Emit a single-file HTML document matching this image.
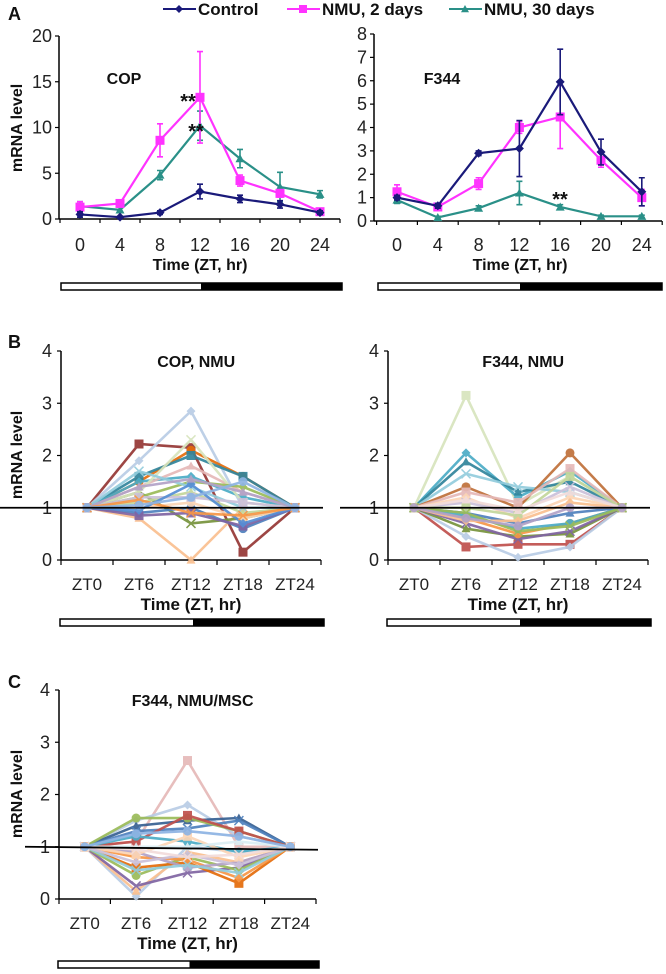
<!DOCTYPE html>
<html><head><meta charset="utf-8"><style>
html,body{margin:0;padding:0;background:#fff;}
svg{display:block;font-family:"Liberation Sans",Arial,sans-serif;}
</style></head><body>
<svg id="fig" width="666" height="974" viewBox="0 0 666 974" xmlns="http://www.w3.org/2000/svg"></svg>
<script>
// ---------- Panel A data ----------
const aTimes = [0,4,8,12,16,20,24];
const copControl = [0.5,0.2,0.7,3.0,2.2,1.6,0.7];
const copControlErr = [0.3,0.1,0.2,0.8,0.4,0.4,0.2];
const copNmu2 = [1.3,1.7,8.6,13.3,4.2,2.8,0.8];
const copNmu2Err = [0.6,0.3,1.8,5.0,0.6,0.4,0.3];
const copNmu30 = [1.4,1.0,4.8,10.2,6.6,3.5,2.7];
const copNmu30Err = [0.5,0.3,0.5,1.6,1.0,1.6,0.4];
const f344Control = [1.0,0.65,2.9,3.1,5.95,2.95,1.25];
const f344ControlErr = [0.1,0.1,0.1,1.2,1.4,0.55,0.6];
const f344Nmu2 = [1.25,0.6,1.6,4.0,4.45,2.6,1.0];
const f344Nmu2Err = [0.3,0.1,0.25,0.25,1.35,0.3,0.35];
const f344Nmu30 = [0.9,0.15,0.55,1.2,0.6,0.2,0.2];
const f344Nmu30Err = [0.15,0.05,0.1,0.5,0.1,0.05,0.05];
const copTicks = [0,5,10,15,20];
const f344Ticks = [0,1,2,3,4,5,6,7,8];
// ---------- Panels B/C data ----------
const ztLabels = ["ZT0","ZT6","ZT12","ZT18","ZT24"];
const bcTicks = [0,1,2,3,4];
const copNmuSeries = [
 [1,2.22,2.15,0.15,1],[1,1.9,2.85,1.0,1],[1,0.8,0.0,1.0,1],[1,1.3,0.7,0.8,1],
 [1,1.5,2.1,1.6,1],[1,1.6,2.0,1.6,1],[1,1.5,1.6,1.2,1],[1,1.4,1.8,1.3,1],
 [1,1.3,2.3,1.1,1],[1,0.9,1.0,0.6,1],[1,0.85,0.9,0.65,1],[1,1.2,1.5,1.4,1],
 [1,1.1,1.3,0.9,1],[1,1.7,1.4,1.0,1],[1,1.0,1.1,0.8,1],[1,1.2,1.2,1.1,1],
 [1,0.95,1.45,0.7,1],[1,1.4,1.55,1.3,1],[1,1.15,0.9,0.85,1],[1,1.05,1.2,1.5,1]];
const f344NmuSeries = [
 [1,3.15,1.05,1.6,1],[1,2.05,1.2,1.7,1],[1,1.88,1.3,1.5,1],[1,1.65,1.4,1.3,1],
 [1,1.4,1.0,2.05,1],[1,0.25,0.3,0.3,1],[1,0.45,0.05,0.25,1],[1,0.6,0.45,0.5,1],
 [1,0.7,0.4,0.55,1],[1,0.8,0.5,0.7,1],[1,1.3,1.1,1.75,1],[1,1.2,0.8,1.2,1],
 [1,0.9,0.7,0.9,1],[1,1.1,0.9,1.4,1],[1,0.85,0.6,0.7,1],[1,1.0,0.85,1.6,1],
 [1,0.75,0.75,1.1,1],[1,1.15,0.95,1.3,1],[1,0.9,0.55,0.65,1],[1,0.8,0.65,1.0,1]];
const mscSeries = [
 [1,1.1,2.65,1.0,1],[1,1.5,1.8,1.2,1],[1,1.4,1.5,1.55,1],[1,1.3,1.35,1.5,1],
 [1,1.55,1.55,1.3,1],[1,1.1,1.6,1.3,1],[1,0.05,1.0,0.9,1],[1,0.15,0.9,0.7,1],
 [1,0.25,0.5,0.6,1],[1,0.45,0.8,0.55,1],[1,0.6,0.7,0.3,1],[1,0.8,0.75,0.4,1],
 [1,0.9,0.6,0.7,1],[1,0.55,0.65,0.5,1],[1,1.2,1.1,0.9,1],[1,0.85,1.2,0.8,1],
 [1,0.7,0.85,0.65,1],[1,1.0,1.0,1.1,1],[1,0.95,0.8,0.85,1],[1,1.25,1.3,1.2,1]];
const copNmuColors = ["#953735","#b9cde5","#fac090","#77933c","#e46c0a","#31859c","#4bacc6","#e6b9b8","#d7e4bd","#4f81bd","#8064a2","#9bbb59","#c3d69b","#93cddd","#fcd5b5","#ccc1da","#558ed5","#b3a2c7","#f79646","#8eb4e3"];
const f344NmuColors = ["#d7e4bd","#4bacc6","#31859c","#93cddd","#c0703a","#c0504d","#b9cde5","#77933c","#8064a2","#f79646","#e6b9b8","#fcd5b5","#4f81bd","#ccc1da","#4bacc6","#c3d69b","#fac090","#f2dcdb","#9bbb59","#b3a2c7"];
const mscColors = ["#e6b9b8","#b9cde5","#376092","#4f81bd","#9bbb59","#c0504d","#b9cde5","#fac090","#8064a2","#9bbb59","#e46c0a","#f79646","#b3a2c7","#93cddd","#4bacc6","#fcd5b5","#ccc1da","#dbeef4","#f2dcdb","#8eb4e3"];

const NS="http://www.w3.org/2000/svg";
const svg=document.getElementById('fig');
function mk(tag,attrs,parent,text){const e=document.createElementNS(NS,tag);for(const k in attrs)e.setAttribute(k,attrs[k]);if(text!==undefined)e.textContent=text;(parent||svg).appendChild(e);return e;}
function txt(x,y,s,size,weight,anchor,name){const t=mk('text',{x:x,y:y,'font-size':size,'font-weight':weight||'normal','text-anchor':anchor||'middle',fill:'#111'},svg,s);

return t;}
function lightBar(x0,x1,xm,y,name){const g=mk('g',{});


mk('rect',{x:x0,y:y,width:x1-x0,height:7,fill:'#fff',stroke:'#000','stroke-width':1.5},g);
mk('rect',{x:xm,y:y,width:x1-xm,height:7,fill:'#000'},g);}

function marker(g,shape,x,y,color,s){
 if(shape==='diamond')mk('polygon',{points:`${x},${y-s} ${x+s},${y} ${x},${y+s} ${x-s},${y}`,fill:color},g);
 else if(shape==='square')mk('rect',{x:x-s,y:y-s,width:2*s,height:2*s,fill:color},g);
 else if(shape==='triangle')mk('polygon',{points:`${x},${y-s} ${x+s},${y+s*0.8} ${x-s},${y+s*0.8}`,fill:color},g);
 else if(shape==='x'){mk('path',{d:`M${x-s} ${y-s}L${x+s} ${y+s}M${x-s} ${y+s}L${x+s} ${y-s}`,stroke:color,'stroke-width':1.5},g);}
 else mk('circle',{cx:x,cy:y,r:s,fill:color},g);
}

// Panel A chart
function panelA(o){
 const xs=i=>o.x0+i*o.dx, ys=v=>o.yb-(v/o.ymax)*(o.yb-o.yt);
 const ax=mk('g',{});
 
 
 mk('line',{x1:o.ax,y1:o.yt,x2:o.ax,y2:o.yb,stroke:'#000','stroke-width':1.5},ax);
 mk('line',{x1:o.ax,y1:o.yb,x2:o.axEnd,y2:o.yb,stroke:'#000','stroke-width':1.5},ax);
 o.ticks.forEach(v=>{mk('line',{x1:o.ax-4,y1:ys(v),x2:o.ax,y2:ys(v),stroke:'#000','stroke-width':1.2},ax);
  const t=mk('text',{x:o.ax-7,y:ys(v)+6,'font-size':18,'text-anchor':'end',fill:'#222'},ax,String(v));
  
  });
 for(let i=0;i<=aTimes.length;i++){const x=o.x0+(i-0.5)*o.dx;mk('line',{x1:x,y1:o.yb,x2:x,y2:o.yb+4,stroke:'#000','stroke-width':1.2},ax);}
 aTimes.forEach((t,i)=>{const e=mk('text',{x:xs(i),y:251,'font-size':18,'text-anchor':'middle',fill:'#222'},ax,String(t));
  
  });
 o.series.forEach(s=>{const g=mk('g',{});
  
  
  s.vals.forEach((v,i)=>{const x=xs(i);mk('path',{d:`M${x} ${ys(v-s.err[i])}L${x} ${ys(v+s.err[i])}M${x-3} ${ys(v-s.err[i])}L${x+3} ${ys(v-s.err[i])}M${x-3} ${ys(v+s.err[i])}L${x+3} ${ys(v+s.err[i])}`,stroke:s.color,'stroke-width':1.6,fill:'none'},g);});
  mk('polyline',{points:s.vals.map((v,i)=>xs(i)+','+ys(v)).join(' '),fill:'none',stroke:s.color,'stroke-width':2.2},g);
  s.vals.forEach((v,i)=>marker(g,s.shape,xs(i),ys(v),s.color,s.shape==='square'?4.5:4.5));
 });
}
panelA({name:'cop-chart',ax:59,axEnd:340,yt:36,yb:219,ymax:20,x0:80,dx:40,ticks:copTicks,series:[
 {name:'cop-nmu-30-days-series',vals:copNmu30,err:copNmu30Err,color:'#2a9088',shape:'triangle'},
 {name:'cop-nmu-2-days-series',vals:copNmu2,err:copNmu2Err,color:'#ff33ff',shape:'square'},
 {name:'cop-control-series',vals:copControl,err:copControlErr,color:'#1a1a7a',shape:'diamond'}]});
panelA({name:'f344-chart',ax:374,axEnd:662,yt:34,yb:221,ymax:8,x0:397,dx:40.8,ticks:f344Ticks,series:[
 {name:'f344-nmu-30-days-series',vals:f344Nmu30,err:f344Nmu30Err,color:'#2a9088',shape:'triangle'},
 {name:'f344-nmu-2-days-series',vals:f344Nmu2,err:f344Nmu2Err,color:'#ff33ff',shape:'square'},
 {name:'f344-control-series',vals:f344Control,err:f344ControlErr,color:'#1a1a7a',shape:'diamond'}]});
txt(124,84,'COP',16,'bold','middle','cop-title');
txt(442,84,'F344',16,'bold','middle','f344-title');
txt(188,108,'**',20,'bold','middle','cop-significance-2d');
txt(196,138,'**',20,'bold','middle','cop-significance-30d');
txt(560,206,'**',20,'bold','middle','f344-significance');
txt(200,270,'Time (ZT, hr)',16,'bold','middle','x-axis-title-cop');
txt(520,270,'Time (ZT, hr)',16,'bold','middle','x-axis-title-f344');
let yt=txt(0,0,'mRNA level',16,'bold','middle','y-axis-title-a');yt.setAttribute('transform','translate(22,128) rotate(-90)');
txt(8,20,'A',18,'bold','start','panel-a-label');
lightBar(61,342,201,283,'light-dark-bar-cop');
lightBar(378,662,520,283,'light-dark-bar-f344');

// Legend
const legend=mk('g',{});


[['Control',163,'#1a1a7a','diamond'],['NMU, 2 days',287,'#ff33ff','square'],['NMU, 30 days',449,'#2a9088','triangle']].forEach(l=>{
 const g=mk('g',{},legend);
 
 
 mk('line',{x1:l[1],y1:9,x2:l[1]+33,y2:9,stroke:l[2],'stroke-width':2},g);
 marker(g,l[3],l[1]+16,9,l[2],4);
 mk('text',{x:l[1]+35,y:15,'font-size':17,'font-weight':'bold',fill:'#111'},g,l[0]);
});

// Panels B/C
function panelBC(o){
 const ys=v=>o.yb-(v/4)*(o.yb-o.yt), xs=i=>o.ax+(i+0.5)*o.dx;
 const ax=mk('g',{});
 
 
 mk('line',{x1:o.ax,y1:o.yt,x2:o.ax,y2:o.yb,stroke:'#000','stroke-width':1.5},ax);
 mk('line',{x1:o.ax,y1:o.yb,x2:o.ax+5*o.dx,y2:o.yb,stroke:'#000','stroke-width':1.5},ax);
 bcTicks.forEach(v=>{mk('line',{x1:o.ax-4,y1:ys(v),x2:o.ax,y2:ys(v),stroke:'#000','stroke-width':1.2},ax);
  const t=mk('text',{x:o.ax-9,y:ys(v)+6,'font-size':18,'text-anchor':'end',fill:'#222'},ax,String(v));
  
  });
 for(let i=0;i<=5;i++){const x=o.ax+i*o.dx;mk('line',{x1:x,y1:o.yb,x2:x,y2:o.yb+5,stroke:'#000','stroke-width':1.2},ax);}
 ztLabels.forEach((l,i)=>{const t=mk('text',{x:xs(i),y:o.yb+30,'font-size':17,'text-anchor':'middle',fill:'#222'},ax,l);
  
  });
 const shapes=['square','diamond','triangle','x','circle'];
 o.series.forEach((s,k)=>{const g=mk('g',{opacity:0.92});
  
  
  mk('polyline',{points:s.map((v,i)=>xs(i)+','+ys(v)).join(' '),fill:'none',stroke:o.colors[k],'stroke-width':2.6},g);
  s.forEach((v,i)=>marker(g,shapes[k%5],xs(i),ys(v),o.colors[k],4.5));
 });
 const ref=mk('line',{x1:o.refX0,y1:ys(1),x2:o.ax+5*o.dx+2,y2:ys(1)+o.slant,stroke:'#000','stroke-width':1.8});
 
 
 txt(o.ax+2.6*o.dx,o.yt+16,o.title,16,'bold','middle',o.name+'-title');
 txt(o.ax+2.5*o.dx,o.yb+50,'Time (ZT, hr)',17,'bold','middle',o.name+'-x-axis-title');
 lightBar(o.ax-1,o.ax+5*o.dx+3,o.ax+2.5*o.dx+2,o.barY,o.name+'-light-dark-bar');
}
panelBC({name:'cop-nmu',ax:61,dx:52,yt:351,yb:560,series:copNmuSeries,colors:copNmuColors,title:'COP, NMU',refX0:0,slant:0,barY:619});
panelBC({name:'f344-nmu',ax:388,dx:52,yt:351,yb:560,series:f344NmuSeries,colors:f344NmuColors,title:'F344, NMU',refX0:340,slant:0,barY:619});
panelBC({name:'f344-nmu-msc',ax:59,dx:51.4,yt:690,yb:899,series:mscSeries,colors:mscColors,title:'F344, NMU/MSC',refX0:25,slant:3,barY:961});
txt(8,348,'B',18,'bold','start','panel-b-label');
txt(8,688,'C',18,'bold','start','panel-c-label');
let yb1=txt(0,0,'mRNA level',16,'bold','middle','y-axis-title-b');yb1.setAttribute('transform','translate(22,455) rotate(-90)');
let yc1=txt(0,0,'mRNA level',16,'bold','middle','y-axis-title-c');yc1.setAttribute('transform','translate(22,794) rotate(-90)');
</script>
</body></html>
